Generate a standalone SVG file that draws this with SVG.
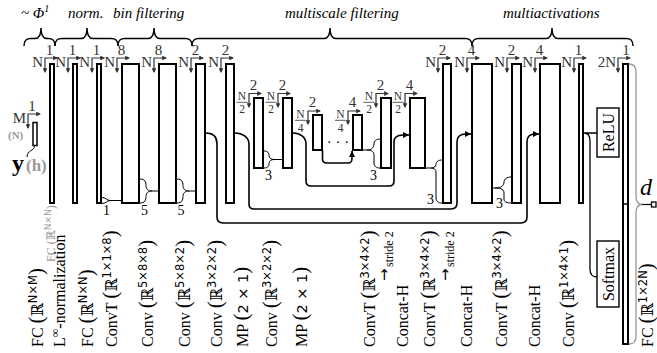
<svg xmlns="http://www.w3.org/2000/svg" width="657" height="353" viewBox="0 0 657 353">
<defs>
<style>
text{font-family:"Liberation Serif","DejaVu Serif",serif;fill:#000}
.hd{font-size:15px;font-style:italic}
.bar{fill:#fff;stroke:#000;stroke-width:2}
.dim{fill:none;stroke:#333;stroke-width:1.2;marker-start:url(#dh);marker-end:url(#dh)}
.dr{font-size:15px;fill:#333;text-anchor:end}
.dc{font-size:15px;fill:#333;text-anchor:middle}
.fr{font-size:11.5px;fill:#333;text-anchor:middle}
.frl{stroke:#333;stroke-width:0.8}
.br{fill:none;stroke:#000;stroke-width:1.5}
.kb{fill:none;stroke:#000;stroke-width:1}
.sk{fill:none;stroke:#000;stroke-width:1.3}
.ska{fill:none;stroke:#000;stroke-width:1.6;marker-end:url(#ah)}
.lbl{font-size:16px}
.p{font-size:21px}
.sup{font-family:"DejaVu Sans",sans-serif;font-size:11.5px}
.kn{font-size:14px;text-anchor:middle}
.box{fill:#fff;stroke:#000;stroke-width:1.4}
.grey{fill:#999}
.st{font-size:12px}
.sa{font-family:"DejaVu Sans",sans-serif;font-size:15px}
</style>
<marker id="dh" viewBox="0 0 10 10" refX="8" refY="5" markerWidth="4" markerHeight="4" orient="auto-start-reverse"><path d="M0,0L10,5L0,10z" fill="#333"/></marker>
<marker id="ah" viewBox="0 0 10 10" refX="10" refY="5" markerWidth="4" markerHeight="4" orient="auto"><path d="M0,0L10,5L0,10z" fill="#000"/></marker>
</defs>
<rect width="657" height="353" fill="#fff"/>

<g id="header">
<text class="hd" x="21" y="18">~ Φ<tspan dy="-6" font-size="10">1</tspan></text>
<text class="hd" x="68" y="18">norm.</text>
<text class="hd" x="113" y="18">bin filtering</text>
<text class="hd" x="285" y="18">multiscale filtering</text>
<text class="hd" x="503" y="18">multiactivations</text>
<path class="br" d="M24,46C24,40.5 26,38.5 31,38.5H35C39,38.5 41,36 41,28C41,36 43,38.5 47,38.5H48C53,38.5 55,40.5 55,46"/>
<path class="br" d="M55,46C55,40.5 57,38.5 62,38.5H81C85,38.5 87,36 87,28C87,36 89,38.5 93,38.5H111C116,38.5 118,40.5 118,46"/>
<path class="br" d="M118,46C118,40.5 120,38.5 125,38.5H148C152,38.5 154,36 154,28C154,36 156,38.5 160,38.5H185C190,38.5 192,40.5 192,46"/>
<path class="br" d="M192,46C192,40.5 194,38.5 199,38.5H324C328,38.5 330,36 330,28C330,36 332,38.5 336,38.5H465C470,38.5 472,40.5 472,46"/>
<path class="br" d="M472,46C472,40.5 474,38.5 479,38.5H546C550,38.5 552,36 552,28C552,36 554,38.5 558,38.5H626C631,38.5 633,40.5 633,46"/>
</g>

<g id="input">
<rect x="33" y="122.5" width="4" height="23" fill="#fff" stroke="#000" stroke-width="1.5"/>
<path class="dim" d="M28,128V114H40"/>
<text class="dr" x="26" y="123">M</text>
<text class="dc" x="32" y="110.5">1</text>
<text x="8" y="139" font-size="11" font-weight="bold" class="grey">(N)</text>
<path fill="none" stroke="#000" stroke-width="1" d="M34.5,146C34.5,151 27,150 27,157"/>
<text x="12" y="171" font-size="24" font-weight="bold">y</text>
<text x="26" y="171" font-size="17" font-weight="bold" class="grey">(h)</text>
</g>

<g id="n1"><rect class="bar" x="50" y="64" width="4" height="139"/><path class="dim" d="M45,72V58H57"/><text class="dr" x="43" y="67">N</text><text class="dc" x="49.5" y="54.5">1</text></g>
<g id="n2"><rect class="bar" x="73" y="64" width="4" height="139"/><path class="dim" d="M68,72V58H80"/><text class="dr" x="66" y="67">N</text><text class="dc" x="72.5" y="54.5">1</text></g>
<g id="n3"><rect class="bar" x="97" y="64" width="4" height="139"/><path class="dim" d="M92,72V58H104"/><text class="dr" x="90" y="67">N</text><text class="dc" x="96.5" y="54.5">1</text></g>
<g id="n4"><rect class="bar" x="122" y="64" width="17" height="139"/><path class="dim" d="M117,72V58H129"/><text class="dr" x="115" y="67">N</text><text class="dc" x="121.5" y="54.5">8</text></g>
<g id="n5"><rect class="bar" x="159" y="64" width="17" height="139"/><path class="dim" d="M154,72V58H166"/><text class="dr" x="152" y="67">N</text><text class="dc" x="158.5" y="54.5">8</text></g>
<g id="n6"><rect class="bar" x="196" y="64" width="9" height="139"/><path class="dim" d="M191,72V58H203"/><text class="dr" x="189" y="67">N</text><text class="dc" x="195.5" y="54.5">2</text></g>
<g id="n7"><rect class="bar" x="226" y="64" width="8" height="139"/><path class="dim" d="M221,72V58H233"/><text class="dr" x="219" y="67">N</text><text class="dc" x="225.5" y="54.5">2</text></g>
<g id="n8"><rect class="bar" x="254" y="98" width="9" height="70"/><path class="dim" d="M249,107V93.5H261"/><text class="fr" x="242" y="99.5">N</text><line class="frl" x1="236.5" y1="102.3" x2="247.5" y2="102.3"/><text class="fr" x="242" y="112.5">2</text><text class="dc" x="253.5" y="90">2</text></g>
<g id="n9"><rect class="bar" x="283" y="98" width="9" height="70"/><path class="dim" d="M278,107V93.5H290"/><text class="fr" x="271" y="99.5">N</text><line class="frl" x1="265.5" y1="102.3" x2="276.5" y2="102.3"/><text class="fr" x="271" y="112.5">2</text><text class="dc" x="282.5" y="90">2</text></g>
<g id="n10"><rect class="bar" x="313" y="115" width="9" height="35"/><path class="dim" d="M308,124V111H320"/><text class="fr" x="300.5" y="117.5">N</text><line class="frl" x1="295" y1="120.3" x2="306" y2="120.3"/><text class="fr" x="300.5" y="132">4</text><text class="dc" x="312.5" y="107">2</text></g>
<g id="n11"><rect class="bar" x="353" y="115" width="9" height="35"/><path class="dim" d="M348,124V111H360"/><text class="fr" x="340.5" y="117.5">N</text><line class="frl" x1="335" y1="120.3" x2="346" y2="120.3"/><text class="fr" x="340.5" y="132">4</text><text class="dc" x="352.5" y="107">4</text></g>
<g id="n12"><rect class="bar" x="381" y="98" width="10" height="70"/><path class="dim" d="M376,107V93.5H388"/><text class="fr" x="369" y="99.5">N</text><line class="frl" x1="363.5" y1="102.3" x2="374.5" y2="102.3"/><text class="fr" x="369" y="112.5">2</text><text class="dc" x="380.5" y="90">2</text></g>
<g id="n13"><rect class="bar" x="410" y="98" width="15" height="70"/><path class="dim" d="M405,107V93.5H417"/><text class="fr" x="398" y="99.5">N</text><line class="frl" x1="392.5" y1="102.3" x2="403.5" y2="102.3"/><text class="fr" x="398" y="112.5">2</text><text class="dc" x="409.5" y="90">4</text></g>
<g id="n14"><rect class="bar" x="443" y="64" width="8" height="139"/><path class="dim" d="M438,72V58H450"/><text class="dr" x="436" y="67">N</text><text class="dc" x="442.5" y="54.5">2</text></g>
<g id="n15"><rect class="bar" x="472" y="64" width="20" height="139"/><path class="dim" d="M467,72V58H479"/><text class="dr" x="465" y="67">N</text><text class="dc" x="471.5" y="54.5">4</text></g>
<g id="n16"><rect class="bar" x="512" y="64" width="9" height="139"/><path class="dim" d="M507,72V58H519"/><text class="dr" x="505" y="67">N</text><text class="dc" x="511.5" y="54.5">2</text></g>
<g id="n17"><rect class="bar" x="540" y="64" width="20" height="139"/><path class="dim" d="M535,72V58H547"/><text class="dr" x="533" y="67">N</text><text class="dc" x="539.5" y="54.5">4</text></g>
<g id="n18"><rect class="bar" x="579" y="64" width="4" height="139"/><path class="dim" d="M574,72V58H586"/><text class="dr" x="572" y="67">N</text><text class="dc" x="578.5" y="54.5">1</text></g>
<g id="relu"><rect class="box" x="597" y="108" width="22" height="49"/><text transform="translate(613.5,132.5) rotate(-90)" text-anchor="middle" font-size="16">ReLU</text></g>
<g id="softmax"><rect class="box" x="597" y="241" width="22" height="66"/><text transform="translate(613.5,274) rotate(-90)" text-anchor="middle" font-size="16">Softmax</text></g>
<g id="n19"><rect class="bar" x="623" y="64" width="5" height="280"/><line x1="623" y1="204" x2="628" y2="204" stroke="#000" stroke-width="1.5"/><path class="dim" d="M618,72V58H630"/><text class="dr" x="616" y="67">2N</text><text class="dc" x="626" y="54.5">1</text></g>
<g id="output">
<path fill="none" stroke="#999" stroke-width="1.3" d="M629,64C634,64 636,67 636,72V196C636,201 638,204.5 642,204.5C638,204.5 636,208 636,213V336C636,341 634,344 629,344"/>
<path d="M642,204.5H651.5" stroke="#000" stroke-width="1.2"/>
<rect x="651.5" y="202" width="4.5" height="5" fill="#fff" stroke="#000" stroke-width="1.3"/>
<text x="640" y="195" font-size="24" font-style="italic">d</text>
</g>

<g id="connectors">
<path class="kb" d="M102,197.5C106,197.5 107,200.5 110,200.5C107,200.5 106,203.5 102,203.5M110,200.5H121"/>
<text class="kn" x="106.5" y="215">1</text>
<path class="kb" d="M140,179C145,179 146,182 146,185.5C146,189 148,191 152,191C148,191 146,193 146,196.5C146,200 145,203 140,203M152,191H158"/>
<text class="kn" x="144.5" y="215">5</text>
<path class="kb" d="M177,179C182,179 183,182 183,185.5C183,189 185,191 189,191C185,191 183,193 183,196.5C183,200 182,203 177,203M189,191H195"/>
<text class="kn" x="181" y="215">5</text>
<path class="kb" d="M264,151C268,151 269,153 269,155.5C269,158 271,159.5 274,159.5C271,159.5 269,161 269,163.5C269,166 268,168 264,168M274,159.5H282"/>
<text class="kn" x="268.5" y="180">3</text>
<path class="kb" d="M363,150H367M380,139C376,139 374,141 374,144C374,147 372,150 367,150C372,150 374,152 374,155V163C374,166 376,168 380,168"/>
<text class="kn" x="373.5" y="180">3</text>
<path class="kb" d="M426,168H431M442,160C438,160 436,162 436,164.5C436,166.5 434,168 431,168C434,168 436,169.5 436,172V198C436,201 438,203 442,203"/>
<text class="kn" x="430.5" y="203.5">3</text>
<path class="kb" d="M493,188H495M511,177C507,177 504,179 504,182C504,185 502,188 495,188C502,188 504,190 504,193V199C504,202 507,203 511,203"/>
<text class="kn" x="499.5" y="208">3</text>
<path class="ska" d="M206,133C213,133 217,137 217,144V217C217,221 219,223 223,223H521C525,223 527,221 527,217V142C527,137 530,134 535,134H539"/>
<path class="ska" d="M235,133C242,133 249,137 249,144V204C249,207 251,209 254,209H451C455,209 457,207 457,203V142C457,137 460,134 466,134H471"/>
<path class="ska" d="M293,133C300,133 306,137 306,144V181C306,184 308,186 311,186H389C392,186 394,184 394,181V142C394,137 397,135 403,135H409"/>
<path class="ska" d="M322.5,150V159C322.5,162 324,163 327,163H348C351,163 352,162 352,158V151"/>
<text x="338" y="147" font-size="15" text-anchor="middle">· · ·</text>
<path class="sk" d="M584,133H597M584,133C588,133 590,136 590,141V269C590,274 592,277 597,277"/>
</g>

<g id="labels">
<text class="lbl" transform="translate(43,347) rotate(-90)">FC <tspan class="p">(</tspan>ℝ<tspan class="sup" dy="-6.5">N×M</tspan><tspan class="p" dy="6.5">)</tspan></text>
<text class="grey" font-size="12" transform="translate(55,262) rotate(-90)">FC (ℝ<tspan font-family="DejaVu Sans" font-size="9" dy="-4.5">N×N</tspan><tspan dy="4.5">)</tspan></text>
<text class="lbl" transform="translate(65,347) rotate(-90)">L<tspan font-size="12" dy="-6">∞</tspan><tspan dy="6">-normalization</tspan></text>
<text class="lbl" transform="translate(93,347) rotate(-90)">FC <tspan class="p">(</tspan>ℝ<tspan class="sup" dy="-6.5">N×N</tspan><tspan class="p" dy="6.5">)</tspan></text>
<text class="lbl" transform="translate(117,347) rotate(-90)">ConvT <tspan class="p">(</tspan>ℝ<tspan class="sup" dy="-6.5">1×1×8</tspan><tspan class="p" dy="6.5">)</tspan></text>
<text class="lbl" transform="translate(153,347) rotate(-90)">Conv <tspan class="p">(</tspan>ℝ<tspan class="sup" dy="-6.5">5×8×8</tspan><tspan class="p" dy="6.5">)</tspan></text>
<text class="lbl" transform="translate(190,347) rotate(-90)">Conv <tspan class="p">(</tspan>ℝ<tspan class="sup" dy="-6.5">5×8×2</tspan><tspan class="p" dy="6.5">)</tspan></text>
<text class="lbl" transform="translate(222,347) rotate(-90)">Conv <tspan class="p">(</tspan>ℝ<tspan class="sup" dy="-6.5">3×2×2</tspan><tspan class="p" dy="6.5">)</tspan></text>
<text class="lbl" transform="translate(248,347) rotate(-90)">MP <tspan class="p">(</tspan><tspan font-family="DejaVu Sans" font-size="14.5">2 × 1</tspan><tspan class="p">)</tspan></text>
<text class="lbl" transform="translate(277,347) rotate(-90)">Conv <tspan class="p">(</tspan>ℝ<tspan class="sup" dy="-6.5">3×2×2</tspan><tspan class="p" dy="6.5">)</tspan></text>
<text class="lbl" transform="translate(307,347) rotate(-90)">MP <tspan class="p">(</tspan><tspan font-family="DejaVu Sans" font-size="14.5">2 × 1</tspan><tspan class="p">)</tspan></text>
<text class="lbl" transform="translate(375,347) rotate(-90)">ConvT <tspan class="p">(</tspan>ℝ<tspan class="sup" dy="-6.5">3×4×2</tspan><tspan class="p" dy="6.5">)</tspan></text>
<text class="sa" transform="translate(388.5,281) rotate(-90)">→</text>
<text class="st" transform="translate(393,267) rotate(-90)">stride 2</text>
<text class="lbl" transform="translate(408,347) rotate(-90)">Concat-H</text>
<text class="lbl" transform="translate(435,347) rotate(-90)">ConvT <tspan class="p">(</tspan>ℝ<tspan class="sup" dy="-6.5">3×4×2</tspan><tspan class="p" dy="6.5">)</tspan></text>
<text class="sa" transform="translate(449.5,281) rotate(-90)">→</text>
<text class="st" transform="translate(454,267) rotate(-90)">stride 2</text>
<text class="lbl" transform="translate(472,347) rotate(-90)">Concat-H</text>
<text class="lbl" transform="translate(507,347) rotate(-90)">ConvT <tspan class="p">(</tspan>ℝ<tspan class="sup" dy="-6.5">3×4×2</tspan><tspan class="p" dy="6.5">)</tspan></text>
<text class="lbl" transform="translate(540,347) rotate(-90)">Concat-H</text>
<text class="lbl" transform="translate(574,347) rotate(-90)">Conv <tspan class="p">(</tspan>ℝ<tspan class="sup" dy="-6.5">1×4×1</tspan><tspan class="p" dy="6.5">)</tspan></text>
<text class="lbl" transform="translate(653,347) rotate(-90)">FC <tspan class="p">(</tspan>ℝ<tspan class="sup" dy="-6.5">1×2N</tspan><tspan class="p" dy="6.5">)</tspan></text>
</g>
</svg>
